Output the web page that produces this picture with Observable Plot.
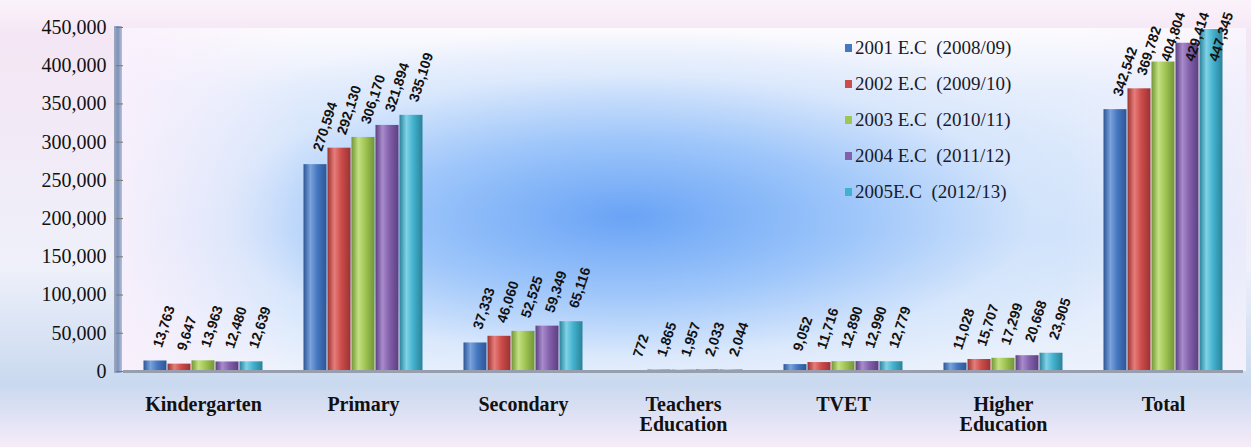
<!DOCTYPE html>
<html>
<head>
<meta charset="utf-8">
<script src="https://cdn.jsdelivr.net/npm/d3@7"></script>
<script src="https://cdn.jsdelivr.net/npm/@observablehq/plot@0.6"></script>
<style>
  html, body { margin: 0; padding: 0; background: #fff; }
  #wrap {
    position: relative; width: 1251px; height: 447px; overflow: hidden;
    background: linear-gradient(180deg, #fbf3fb 0%, #f4e6f4 8%, #eef0fa 60%, #c9d9ef 86%, #e2e3f5 94%, #f6ecf8 100%);
  }
  #plotbg {
    position: absolute; left: 120px; top: 28px; width: 1126px; height: 343px;
    background:
      radial-gradient(ellipse 48% 55% at 45% 55%, rgba(100,160,245,0.95) 0%, rgba(140,188,250,0.8) 40%, rgba(205,225,252,0.45) 75%, rgba(255,255,255,0) 100%),
      linear-gradient(180deg, #fdfbfe 0%, #e6eefc 18%, #d3e4fa 60%, #ecf2fc 100%);
  }
  #plotbg::before {
    content: ""; position: absolute; left: 0; top: 0; right: 0; bottom: 0;
    background: linear-gradient(90deg, rgba(250,240,252,0.9) 0%, rgba(248,240,252,0) 16%, rgba(248,240,252,0) 84%, rgba(248,240,252,0.6) 100%);
  }
  #wall {
    position: absolute; left: 114px; top: 26px; width: 8px; height: 347px;
    background: linear-gradient(90deg, #a0a8bc, #7d93bd 50%, #b4c0d6);
  }
  #chart { position: absolute; left: 0; top: 0; }
  #legend {
    position: absolute; left: 845px; top: 30px;
    font-family: "Liberation Serif", "DejaVu Serif", serif; font-size: 19px; color: #1a1a2a;
  }
  #legend .item { display: flex; align-items: center; height: 36px; white-space: pre; }
  #legend .sw { width: 7px; height: 8px; margin-right: 3px; }
</style>
</head>
<body>
<div id="wrap">
  <div id="plotbg"></div>
  <div id="wall"></div>
  <div id="chart"></div>
  <div id="legend"></div>
</div>
<script>
// ---- data ----
const categories = ["Kindergarten", "Primary", "Secondary", "Teachers Education", "TVET", "Higher Education", "Total"];
const categoryLabels = ["Kindergarten", "Primary", "Secondary", "Teachers\nEducation", "TVET", "Higher\nEducation", "Total"];
const seriesNames = ["2001 E.C  (2008/09)", "2002 E.C  (2009/10)", "2003 E.C  (2010/11)", "2004 E.C  (2011/12)", "2005E.C  (2012/13)"];
const v2001 = [13763, 270594, 37333, 772, 9052, 11028, 342542];
const v2002 = [9647, 292130, 46060, 1865, 11716, 15707, 369782];
const v2003 = [13963, 306170, 52525, 1957, 12890, 17299, 404804];
const v2004 = [12480, 321894, 59349, 2033, 12990, 20668, 429414];
const v2005 = [12639, 335109, 65116, 2044, 12779, 23905, 447345];
const yTicks = [0, 50000, 100000, 150000, 200000, 250000, 300000, 350000, 400000, 450000];
const colors = ["#4677c0", "#cc4c4a", "#9fc553", "#8360ab", "#42b1cd"];
const colorsDark = ["#2c5596", "#9a3331", "#739436", "#5b3f80", "#2a8299"];
const colorsLight = ["#7aa3dc", "#e77d7a", "#c4e080", "#a98bcc", "#7fd2e6"];

const seriesValues = [v2001, v2002, v2003, v2004, v2005];
const data = [];
seriesValues.forEach((vals, si) => {
  vals.forEach((v, ci) => data.push({category: categories[ci], series: seriesNames[si], si, value: v}));
});
const labelOf = new Map(categories.map((c, i) => [c, categoryLabels[i]]));
const fmt = d3.format(",");

const marks = [];
seriesNames.forEach((s, si) => {
  marks.push(Plot.barY(data.filter(d => d.si === si), {
    fx: "category", x: "series", y: "value",
    fill: `url(#bargrad${si})`, insetLeft: 0.5, insetRight: 0.5
  }));
});
marks.push(Plot.ruleY([0], {stroke: "#979eae", strokeWidth: 3}));
marks.push(Plot.text(data, {
  fx: "category", x: "series",
  y: d => Math.min(d.value, 388000),
  text: d => fmt(d.value),
  rotate: -72, textAnchor: "start", dy: -14, dx: 2,
  fontFamily: "Liberation Sans Narrow, Liberation Sans, Arial, sans-serif", fontWeight: "bold", fontSize: 14,
  fill: "#111"
}));
marks.push(Plot.axisY({
  ticks: yTicks, tickFormat: d => fmt(d), tickSize: 7, tickPadding: 10,
  fontSize: 20, fontFamily: "Liberation Serif, serif", label: null, stroke: "#777"
}));
marks.push(Plot.axisFx({
  anchor: "bottom", tickSize: 0, tickPadding: 25, label: null,
  tickFormat: d => labelOf.get(d), fontSize: 20, fontWeight: "bold",
  fontFamily: "Liberation Serif, serif", lineAnchor: "top"
}));

const chart = Plot.plot({
  width: 1251, height: 447,
  marginLeft: 120, marginRight: 5, marginTop: 27, marginBottom: 76,
  style: {background: "transparent", color: "#111", overflow: "visible"},
  fx: {domain: categories, padding: 0, paddingOuter: 0},
  x: {domain: seriesNames, padding: 0, paddingOuter: 0.75, axis: null},
  y: {domain: [0, 450000], axis: null},
  marks
});

// gradients to mimic the cylinder-like bar shading
const svg = d3.select(chart);
const defs = svg.insert("defs", ":first-child");
colors.forEach((c, i) => {
  const g = defs.append("linearGradient").attr("id", `bargrad${i}`).attr("x1", "0").attr("x2", "1").attr("y1", "0").attr("y2", "0");
  g.append("stop").attr("offset", "0%").attr("stop-color", colorsDark[i]);
  g.append("stop").attr("offset", "30%").attr("stop-color", colorsLight[i]);
  g.append("stop").attr("offset", "60%").attr("stop-color", c);
  g.append("stop").attr("offset", "100%").attr("stop-color", colorsDark[i]);
});
document.getElementById("chart").appendChild(chart);

// legend
const legend = d3.select("#legend");
seriesNames.forEach((s, i) => {
  const item = legend.append("div").attr("class", "item");
  item.append("div").attr("class", "sw").style("background", colors[i]);
  item.append("span").text(s);
});
</script>
</body>
</html>
